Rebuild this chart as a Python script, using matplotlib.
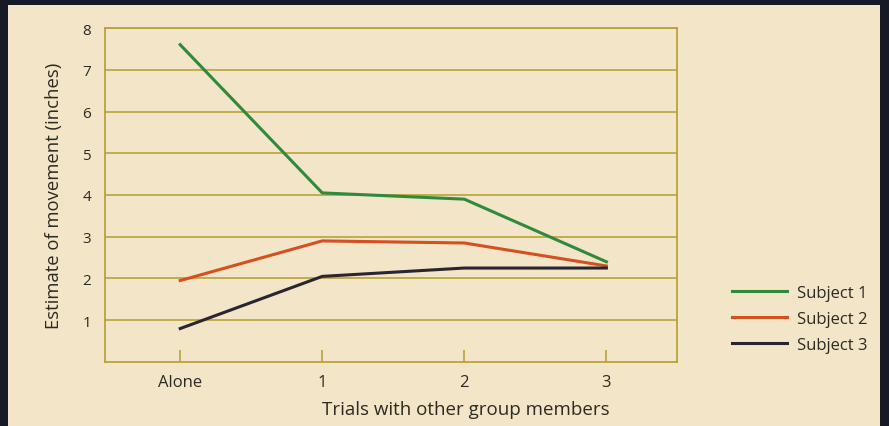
import numpy as np
import matplotlib
matplotlib.use("Agg")
import matplotlib.pyplot as plt
from matplotlib.patches import Rectangle

plt.rcParams['font.family'] = ['Open Sans', 'DejaVu Sans']

categories = ["Alone", "1", "2", "3"]
subject1 = [7.6, 4.05, 3.9, 2.4]
subject2 = [1.95, 2.9, 2.85, 2.3]
subject3 = [0.8, 2.05, 2.25, 2.25]
names = ["Subject 1", "Subject 2", "Subject 3"]
yticks = [1, 2, 3, 4, 5, 6, 7, 8]

paper = "#f3e5c8"
olive = "#b9a23a"
ink = "#2b2b22"
line_colors = ["#2f8a3c", "#d4501e", "#2a2630"]

fig = plt.figure(figsize=(8.89, 4.27), dpi=100)
fig.set_facecolor("#151a26")
# beige page on the dark scan border
fig.patches.append(Rectangle((8 / 889, 0), 872 / 889, 1 - 6 / 427,
                             transform=fig.transFigure, facecolor=paper,
                             edgecolor="none", zorder=-10))

ax = fig.add_axes([0.118, 0.150, 0.644, 0.782])
ax.set_facecolor(paper)
x = np.arange(len(categories))

for ys, c, n in zip([subject1, subject2, subject3], line_colors, names):
    ax.plot(x, ys, color=c, lw=2.2, label=n, zorder=3)

ax.set_xlim(-0.53, 3.5)
ax.set_ylim(0, 8)
ax.set_yticks(yticks)
ax.set_yticklabels([str(v) for v in yticks], fontsize=11, color=ink)
ax.set_xticks(x)
ax.set_xticklabels(categories, fontsize=12, color=ink)
ax.tick_params(axis='y', length=0, pad=10)
ax.tick_params(axis='x', direction='in', length=9, width=1.2, color=olive, pad=9)
ax.yaxis.grid(True, color=olive, lw=1.2)
for s in ax.spines.values():
    s.set_color(olive)
    s.set_linewidth(1.3)

ax.set_ylabel("Estimate of movement (inches)", fontsize=13.3, color=ink, labelpad=14)
fig.text(466 / 889, 1 - 410 / 427, "Trials with other group members",
         ha='center', va='center', fontsize=13.5, color=ink)

ax.legend(loc='center left', bbox_to_anchor=(1.069, 0.129), frameon=False,
          fontsize=12, handlelength=3.3, handletextpad=0.6,
          labelspacing=0.6, labelcolor=ink)

fig.savefig("out.png", dpi=100, facecolor=fig.get_facecolor())
